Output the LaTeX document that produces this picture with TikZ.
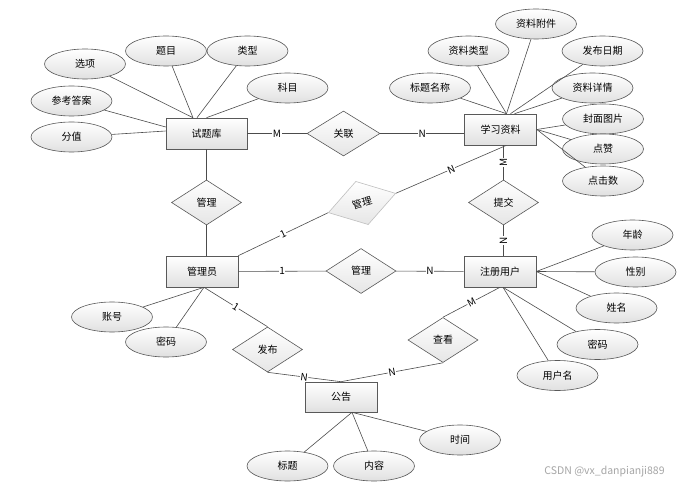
\documentclass[tikz,border=0pt]{standalone}
\usepackage{fontspec}
\setmainfont{Noto Sans CJK SC}
\usepackage{tikz}
\usetikzlibrary{shapes.geometric}

\begin{document}
\begin{tikzpicture}[x = 1pt , y = -1pt ,
    font = \fontsize{10}{12}\selectfont ,
    line width = 0.6pt ,
    entity/.style = {draw = black!65 , rectangle , top color = white , bottom color = black!12 , minimum width = 72pt , minimum height = 31pt , inner sep = 0pt},
    rel/.style = {draw = black!65 , diamond , top color = white , bottom color = black!10 , minimum width = 70pt , minimum height = 45pt , inner sep = 0pt},
    attr/.style = {draw = black!65 , ellipse , top color = white , bottom color = black!12 , minimum width = 81pt , minimum height = 30pt , inner sep = 0pt},
    lbl/.style = {fill = white , inner sep = 0.6pt , font = \fontsize{10}{11}\selectfont},
    conn/.style = {draw = black!70}]
    \fill[white] (0,0) rectangle (682,486);
    \useasboundingbox (0,0) rectangle (682,486);
    % 实体
    \node[entity , minimum width = 81pt] (tk) at (206.5,133.5) {试题库};
    \node[entity] (xxzl) at (500.5,129.5) {学习资料};
    \node[entity] (gly) at (202,271.5) {管理员};
    \node[entity] (zcyh) at (500,271.5) {注册用户};
    \node[entity , minimum height = 30pt] (gg) at (341,397) {公告};
    % 联系
    \node[rel , minimum width = 73pt] (gl) at (343.5,133.5) {关联};
    \node[rel] (gl1) at (206.5,202.5) {管理};
    \node[rel , rotate = 16 , draw = black!25] (gl2) at (362,203) {管理};
    \node[rel] (tj) at (503.5,202.5) {提交};
    \node[rel] (gl3) at (361,271) {管理};
    \node[rel] (fb) at (267.5,349.5) {发布};
    \node[rel] (ck) at (443,340) {查看};
    % 属性 (试题库)
    \node[attr] (xx) at (85,64) {选项};
    \node[attr] (tm) at (166,51) {题目};
    \node[attr] (lx) at (247.5,51) {类型};
    \node[attr] (km) at (287.5,88) {科目};
    \node[attr] (ckda) at (71.5,101) {参考答案};
    \node[attr] (fz) at (71.5,137) {分值};
    % 属性 (学习资料)
    \node[attr] (zlfj) at (536,24) {资料附件};
    \node[attr] (zllx) at (468.5,51) {资料类型};
    \node[attr] (fbrq) at (602.5,51) {发布日期};
    \node[attr] (btmc) at (430,88) {标题名称};
    \node[attr] (zlxq) at (592.5,88) {资料详情};
    \node[attr] (fmtp) at (603,119) {封面图片};
    \node[attr] (dz) at (603,149) {点赞};
    \node[attr] (djs) at (603,181) {点击数};
    % 属性 (管理员)
    \node[attr] (zh) at (112,317) {账号};
    \node[attr] (mm1) at (166,342) {密码};
    % 属性 (注册用户)
    \node[attr] (nl) at (632.5,235) {年龄};
    \node[attr] (xb) at (635.5,272) {性别};
    \node[attr] (xm) at (616.5,308) {姓名};
    \node[attr] (mm2) at (597.5,344.5) {密码};
    \node[attr] (yhm) at (557.5,375.5) {用户名};
    % 属性 (公告)
    \node[attr] (bt) at (287.5,466) {标题};
    \node[attr] (nr) at (374,466) {内容};
    \node[attr] (sj) at (460,440) {时间};

    % 连线
    \draw[conn] (tk) -- (gl) node[midway , lbl]{M};
    \draw[conn] (gl) -- (gl -| xxzl.west) node[midway , lbl]{N};
    \draw[conn] (tk) -- (gl1);
    \draw[conn] (gl1) -- (gl1 |- gly.north);
    \draw[conn] (xxzl.south -| tj) -- (tj) node[midway , lbl , rotate = 90]{M};
    \draw[conn] (tj) -- (tj |- zcyh.north) node[midway , lbl , rotate = 90]{N};
    \draw[conn] ([xshift = 6pt]xxzl.south) -- (gl2.east) node[midway , lbl , sloped]{N};
    \draw[conn] (gl2.west) -- (gly.north east) node[midway , lbl , sloped]{1};
    \draw[conn] (gly) -- (gl3) node[midway , lbl]{1};
    \draw[conn] (gl3) -- (zcyh) node[midway , lbl]{N};
    \draw[conn] ([xshift = 2pt]gly.south) -- (fb.north) node[midway , lbl , sloped]{1};
    \draw[conn] (fb.south) -- (gg.north) node[midway , lbl , sloped]{N};
    \draw[conn] (zcyh.south) -- (ck.north) node[midway , lbl , sloped]{M};
    \draw[conn] (ck.south) -- (gg.north) node[midway , lbl , sloped]{N};

    \draw[conn] (xx) -- ([xshift = -13.5pt]tk.north);
    \draw[conn] (tm) -- ([xshift = -13.5pt]tk.north);
    \draw[conn] (lx) -- ([xshift = -9.5pt]tk.north);
    \draw[conn] (km) -- (tk.north);
    \draw[conn] (ckda) -- ([yshift = 6.5pt]tk.west);
    \draw[conn] (fz) -- ([yshift = 2.5pt]tk.west);

    \draw[conn] (btmc) -- ([xshift = 6pt]xxzl.north);
    \draw[conn] (zllx) -- ([xshift = 6pt]xxzl.north);
    \draw[conn] (zlfj) -- ([xshift = 6pt]xxzl.north);
    \draw[conn] (fbrq) -- ([xshift = 10pt]xxzl.north);
    \draw[conn] (zlxq) -- ([xshift = 14pt]xxzl.north);
    \draw[conn] (fmtp) -- (xxzl.east);
    \draw[conn] (dz) -- (xxzl.east);
    \draw[conn] (djs) -- (xxzl.east);

    \draw[conn] (zh) -- ([xshift = 2pt]gly.south);
    \draw[conn] (mm1) -- ([xshift = 2pt]gly.south);

    \draw[conn] (nl) -- (zcyh.east);
    \draw[conn] (xb) -- (zcyh.east);
    \draw[conn] (xm) -- (zcyh.east);
    \draw[conn] (mm2) -- ([xshift = 3pt]zcyh.south);
    \draw[conn] (yhm) -- ([xshift = 3pt]zcyh.south);

    \draw[conn] (bt) -- ([xshift = 11pt]gg.south);
    \draw[conn] (nr) -- ([xshift = 11pt]gg.south);
    \draw[conn] (sj) -- ([xshift = 11pt]gg.south);

    \node[text = black!35 , font = \fontsize{10.5}{12}\selectfont] (sy) at (604.5,472) {CSDN @vx\_danpianji889}; % 水印
\end{tikzpicture}
\end{document}
